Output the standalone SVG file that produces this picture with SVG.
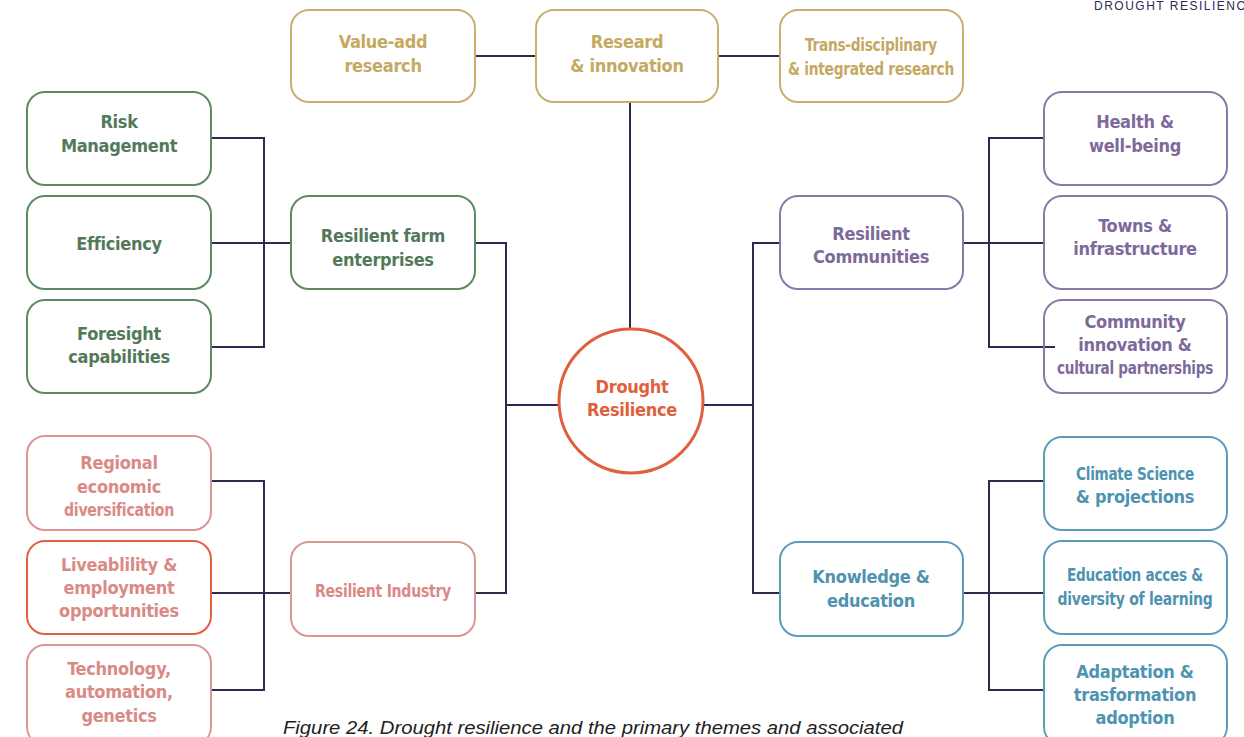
<svg xmlns="http://www.w3.org/2000/svg" width="1244" height="737" viewBox="0 0 1244 737">
<style>
.box{fill:#fff;stroke-width:2}
.t{font-family:"DejaVu Sans","Liberation Sans",sans-serif;font-stretch:condensed;font-weight:bold;font-size:18px;text-anchor:middle;letter-spacing:-0.3px}
.gold .box{stroke:#c9b06b}.gold text{fill:#c4a962}
.green .box{stroke:#5b8a62}.green text{fill:#52795a}
.pink .box{stroke:#dc9592}.pink text{fill:#d98a86}
.purple .box{stroke:#8a78a8}.purple text{fill:#7d6a9b}
.blue .box{stroke:#5d9cb8}.blue text{fill:#4e93b0}
.conn{fill:none;stroke:#2b2a52;stroke-width:2}
</style>
<rect width="1244" height="737" fill="#fff"/>
<text x="1094" y="10" font-family="'Liberation Sans',sans-serif" font-size="12" letter-spacing="1.5" fill="#2b2a52">DROUGHT RESILIENCE</text>
<g id="connectors" class="conn">
<path d="M475 56H536M718 56H780M630 102V332"/>
<path d="M211 138H264V347H211M211 243H291"/>
<path d="M475 243H506V593H475M506 405H558"/>
<path d="M211 481H264V690H211M211 593H291"/>
<path d="M704 405H753M780 243H753V593H780"/>
<path d="M963 243H1044M1044 138H989V347H1055"/>
<path d="M963 593H1044M1044 481H989V690H1044"/>
</g>
<g id="value-add" class="gold"><rect class="box" x="291" y="10" width="184" height="92" rx="18"/><text class="t" x="383" y="48">Value-add</text><text class="t" x="383" y="72">research</text></g>
<g id="research" class="gold"><rect class="box" x="536" y="10" width="182" height="92" rx="18"/><text class="t" x="627" y="48">Researd</text><text class="t" x="627" y="72">&amp; innovation</text></g>
<g id="trans" class="gold"><rect class="box" x="780" y="10" width="183" height="92" rx="18"/><text class="t" x="871" y="51" textLength="132" lengthAdjust="spacingAndGlyphs">Trans-disciplinary</text><text class="t" x="871" y="75" textLength="166" lengthAdjust="spacingAndGlyphs">&amp; integrated research</text></g>
<g id="risk" class="green"><rect class="box" x="27" y="92" width="184" height="93" rx="18"/><text class="t" x="119" y="128">Risk</text><text class="t" x="119" y="152">Management</text></g>
<g id="efficiency" class="green"><rect class="box" x="27" y="196" width="184" height="93" rx="18"/><text class="t" x="119" y="250">Efficiency</text></g>
<g id="foresight" class="green"><rect class="box" x="27" y="300" width="184" height="93" rx="18"/><text class="t" x="119" y="340">Foresight</text><text class="t" x="119" y="363">capabilities</text></g>
<g id="farm" class="green"><rect class="box" x="291" y="196" width="184" height="93" rx="18"/><text class="t" x="383" y="242">Resilient farm</text><text class="t" x="383" y="266">enterprises</text></g>
<g id="regional" class="pink"><rect class="box" x="27" y="436" width="184" height="94" rx="18"/><text class="t" x="119" y="469">Regional</text><text class="t" x="119" y="493">economic</text><text class="t" x="119" y="516" textLength="110" lengthAdjust="spacingAndGlyphs">diversification</text></g>
<g id="liveability" class="pink"><rect class="box" x="27" y="541" width="184" height="93" rx="18" style="stroke:#e0603e"/><text class="t" x="119" y="571">Liveablility &amp;</text><text class="t" x="119" y="594">employment</text><text class="t" x="119" y="617">opportunities</text></g>
<g id="technology" class="pink"><rect class="box" x="27" y="645" width="184" height="100" rx="18"/><text class="t" x="119" y="675">Technology,</text><text class="t" x="119" y="698">automation,</text><text class="t" x="119" y="722">genetics</text></g>
<g id="industry" class="pink"><rect class="box" x="291" y="542" width="184" height="94" rx="18"/><text class="t" x="383" y="597" textLength="136" lengthAdjust="spacingAndGlyphs">Resilient Industry</text></g>
<g id="center"><circle cx="631" cy="401" r="72" fill="#fff" stroke="#e0603e" stroke-width="3"/><text class="t" x="632" y="393" fill="#e0603e">Drought</text><text class="t" x="632" y="416" fill="#e0603e">Resilience</text></g>
<g id="communities" class="purple"><rect class="box" x="780" y="196" width="183" height="93" rx="18"/><text class="t" x="871" y="240">Resilient</text><text class="t" x="871" y="263">Communities</text></g>
<g id="health" class="purple"><rect class="box" x="1044" y="92" width="183" height="93" rx="18"/><text class="t" x="1135" y="128">Health &amp;</text><text class="t" x="1135" y="152">well-being</text></g>
<g id="towns" class="purple"><rect class="box" x="1044" y="196" width="183" height="93" rx="18"/><text class="t" x="1135" y="232">Towns &amp;</text><text class="t" x="1135" y="255">infrastructure</text></g>
<g id="community" class="purple"><rect class="box" x="1044" y="300" width="183" height="93" rx="18" style="fill:none"/><text class="t" x="1135" y="328">Community</text><text class="t" x="1135" y="351">innovation &amp;</text><text class="t" x="1135" y="374" textLength="156" lengthAdjust="spacingAndGlyphs">cultural partnerships</text></g>
<g id="knowledge" class="blue"><rect class="box" x="780" y="542" width="183" height="94" rx="18"/><text class="t" x="871" y="583">Knowledge &amp;</text><text class="t" x="871" y="607">education</text></g>
<g id="climate" class="blue"><rect class="box" x="1044" y="437" width="183" height="93" rx="18"/><text class="t" x="1135" y="480" textLength="118" lengthAdjust="spacingAndGlyphs">Climate Science</text><text class="t" x="1135" y="503">&amp; projections</text></g>
<g id="education" class="blue"><rect class="box" x="1044" y="541" width="183" height="93" rx="18"/><text class="t" x="1135" y="581" textLength="136" lengthAdjust="spacingAndGlyphs">Education acces &amp;</text><text class="t" x="1135" y="605" textLength="155" lengthAdjust="spacingAndGlyphs">diversity of learning</text></g>
<g id="adaptation" class="blue"><rect class="box" x="1044" y="645" width="183" height="100" rx="18"/><text class="t" x="1135" y="678">Adaptation &amp;</text><text class="t" x="1135" y="701">trasformation</text><text class="t" x="1135" y="724">adoption</text></g>
<text x="283" y="734" font-family="'Liberation Sans',sans-serif" font-style="italic" font-size="19" fill="#222" textLength="620" lengthAdjust="spacingAndGlyphs">Figure 24. Drought resilience and the primary themes and associated</text>
</svg>
